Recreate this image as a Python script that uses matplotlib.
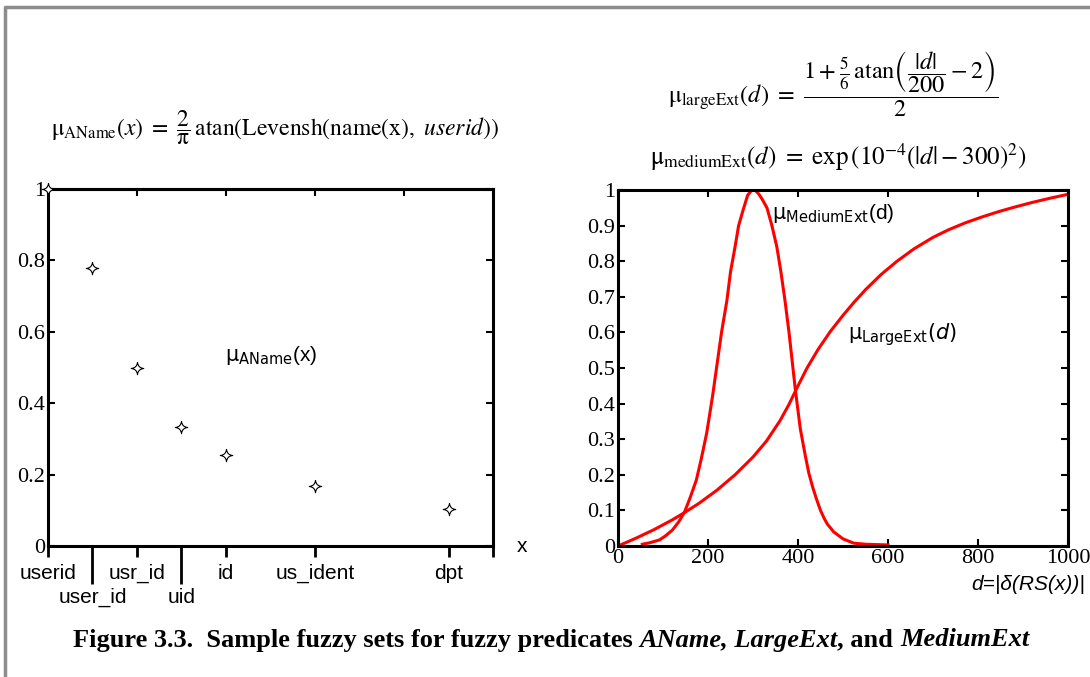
import matplotlib
matplotlib.use('Agg')
import matplotlib.pyplot as plt
from matplotlib.path import Path
from matplotlib.lines import Line2D

plt.rcParams['font.family'] = ['Liberation Serif', 'DejaVu Serif']
plt.rcParams['mathtext.fontset'] = 'stix'

# левая панель: имена и степень принадлежности AName
names = ['userid', 'user_id', 'usr_id', 'uid', 'id', 'us_ident', 'dpt']
name_pos = [0, 1, 2, 3, 4, 6, 9]
aname = [1.0, 0.78, 0.5, 0.333, 0.255, 0.168, 0.104]

# правая панель: кривые
medium_d = [54, 70, 92, 105, 121, 135, 148, 160, 174, 185, 197, 210, 220, 230,
            242, 250, 260, 268, 278, 288, 296, 304, 312, 320, 331, 342, 353,
            362, 371, 380, 387, 394, 405, 416, 424, 432, 441, 450, 458, 465,
            479, 500, 524, 550, 600]
medium_mu = [0.005, 0.009, 0.017, 0.028, 0.045, 0.068, 0.096, 0.135, 0.185,
             0.245, 0.317, 0.42, 0.51, 0.60, 0.69, 0.77, 0.84, 0.90, 0.944,
             0.985, 0.998, 1.0, 0.99, 0.975, 0.95, 0.90, 0.84, 0.77, 0.69,
             0.60, 0.52, 0.44, 0.33, 0.255, 0.205, 0.168, 0.132, 0.10, 0.078,
             0.062, 0.04, 0.02, 0.008, 0.005, 0.003]
large_d = [0, 40, 80, 120, 148, 180, 220, 260, 300, 330, 360, 380, 400, 420,
           445, 472, 500, 524, 550, 584, 620, 658, 700, 734, 770, 808, 845,
           881, 920, 960, 1000]
large_mu = [0.0, 0.022, 0.046, 0.073, 0.094, 0.12, 0.157, 0.2, 0.25, 0.295,
            0.352, 0.398, 0.45, 0.5, 0.553, 0.603, 0.648, 0.684, 0.72, 0.762,
            0.8, 0.835, 0.867, 0.888, 0.907, 0.924, 0.939, 0.952, 0.965, 0.977,
            0.988]

# четырёхконечная звёздочка-маркер
star = Path([(0, 1), (0.08, 0.08), (1, 0), (0.08, -0.08), (0, -1),
             (-0.08, -0.08), (-1, 0), (-0.08, 0.08), (0, 1)],
            [Path.MOVETO, Path.CURVE3, Path.CURVE3, Path.CURVE3, Path.CURVE3,
             Path.CURVE3, Path.CURVE3, Path.CURVE3, Path.CURVE3])

fig = plt.figure(figsize=(10.9, 6.77), dpi=100)
ax1 = fig.add_axes([0.044, 0.1935, 0.4083, 0.5273])
ax2 = fig.add_axes([0.567, 0.1935, 0.4128, 0.5258])

for ax in (ax1, ax2):
    for s in ax.spines.values():
        s.set_linewidth(2.2)

# --- левая панель ---
ax1.set_xlim(0, 10)
ax1.set_ylim(0, 1)
ax1.plot(name_pos, aname, ls='none', marker=star, ms=9, mfc='white',
         mec='black', mew=0.8, clip_on=False, zorder=5)

ax1.set_yticks([0, 0.2, 0.4, 0.6, 0.8, 1], ['0', '0.2', '0.4', '0.6', '0.8', '1'],
               family='Liberation Serif', fontsize=16)
ax1.tick_params(axis='y', direction='in', length=5, width=1.5, pad=2, right=True)

major = [p for p, n in zip(name_pos, names) if n not in ('user_id', 'uid')] + [10]
major_lab = [n for n in names if n not in ('user_id', 'uid')] + ['']
minor = [1, 3]
ax1.set_xticks(major, major_lab, family='Liberation Sans', fontsize=15)
ax1.set_xticks(minor, ['user_id', 'uid'], minor=True, family='Liberation Sans',
               fontsize=15)
ax1.tick_params(axis='x', which='major', direction='out', length=8, width=2, pad=5)
ax1.tick_params(axis='x', which='minor', direction='out', length=27, width=2, pad=3)

top = ax1.secondary_xaxis('top')
top.set_xticks([0, 2, 4, 6, 8, 10])
top.tick_params(direction='in', length=5, width=1.5, labeltop=False)
top.spines['top'].set_linewidth(2.2)

ax1.text(10.54, 0, 'x', family='Liberation Sans', fontsize=15, va='center',
         ha='left', clip_on=False)
ax1.text(3.98, 0.535, r'$\mathrm{μ}_{\mathrm{AName}}$(x)', family='Liberation Sans',
         fontsize=15, math_fontfamily='dejavusans', va='center', ha='left')

# --- правая панель ---
ax2.plot(large_d, large_mu, color='#ff0000', lw=2.2)
ax2.plot(medium_d, medium_mu, color='#ff0000', lw=2.2)
ax2.set_xlim(0, 1000)
ax2.set_ylim(0, 1)
ax2.set_xticks(range(0, 1001, 200), [str(v) for v in range(0, 1001, 200)],
               family='Liberation Serif', fontsize=16)
ax2.set_yticks([i / 10 for i in range(11)],
               ['0'] + ['0.%d' % i for i in range(1, 10)] + ['1'],
               family='Liberation Serif', fontsize=16)
ax2.tick_params(direction='in', length=5, width=1.5, pad=2, top=True, right=True)
ax2.text(342, 0.935, r'$\mathrm{μ}_{\mathrm{MediumExt}}$(d)', family='Liberation Sans',
         fontsize=15, math_fontfamily='dejavusans', va='center', ha='left')
ax2.text(511, 0.593, r'$\mathrm{μ}_{\mathrm{LargeExt}}(d)$', family='Liberation Sans',
         fontsize=15, math_fontfamily='dejavusans', va='center', ha='left')
fig.text(1085 / 1090, 1 - 585 / 677, 'd=|δ(RS(x))|', family=['Liberation Sans', 'DejaVu Sans'],
         fontstyle='italic', fontsize=15, ha='right', va='center')

# формулы
fig.text(275 / 1090, 1 - 128 / 677,
         r'$\mathrm{μ}_{\mathrm{AName}}(x)\ =\ \dfrac{2}{\mathrm{π}}\,\mathrm{atan}'
         r'(\mathrm{Levensh(name(x)},\ userid))$',
         fontsize=17, ha='center', va='center')
fig.text(833 / 1090, 1 - 84 / 677,
         r'$\mathrm{μ}_{\mathrm{largeExt}}(d)\ =\ \dfrac{1+\frac{5}{6}\,\mathrm{atan}'
         r'\left(\dfrac{|d|}{200}-2\right)}{2}$',
         fontsize=17.5, ha='center', va='center')
fig.text(838 / 1090, 1 - 157 / 677,
         r'$\mathrm{μ}_{\mathrm{mediumExt}}(d)\ =\ \mathrm{exp}\,(10^{-4}(|d|-300)^{2})$',
         fontsize=18, ha='center', va='center')

# рамка
fig.add_artist(Line2D([5 / 1090, 5 / 1090, 1], [0, 1 - 7 / 677, 1 - 7 / 677],
                      transform=fig.transFigure, color='#8c8c8c', lw=2.5))

# подпись
pieces = [('Figure 3.3.  Sample fuzzy sets for fuzzy predicates', 'normal', False),
          ('AName, LargeExt', 'italic', True),
          (', and', 'normal', False),
          ('MediumExt', 'italic', True)]
r = fig.canvas.get_renderer()
kw = dict(fontsize=19, fontweight='bold', family='Liberation Serif', va='center')


def text_width(s, style):
    t = fig.text(0, 0, s, fontstyle=style, **kw)
    w = t.get_window_extent(r).width
    t.remove()
    return w


gap = text_width('a a', 'normal') - text_width('aa', 'normal')
widths = [text_width(s, st) for s, st, _ in pieces]
total = sum(widths) + gap * sum(1 for p in pieces if p[2])
x = 551 - total / 2
for (s, st, sp), w in zip(pieces, widths):
    if sp:
        x += gap
    fig.text(x / 1090, 1 - 640 / 677, s, fontstyle=st, **kw)
    x += w

fig.savefig('out.png', dpi=100)
